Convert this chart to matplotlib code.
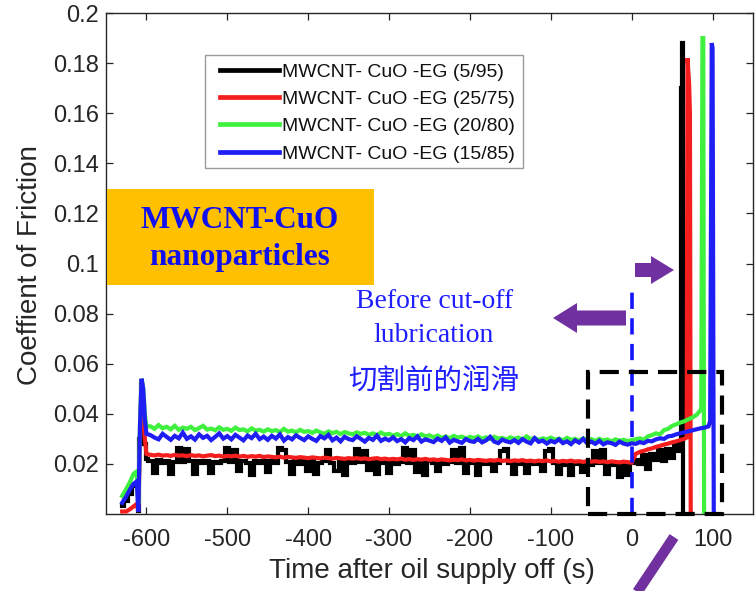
import numpy as np
import matplotlib
matplotlib.use("Agg")
import matplotlib.pyplot as plt
from matplotlib.patches import Rectangle, Polygon
from matplotlib.lines import Line2D

# ---------------- data ----------------
LABELS = ["MWCNT- CuO -EG (5/95)", "MWCNT- CuO -EG (25/75)",
          "MWCNT- CuO -EG (20/80)", "MWCNT- CuO -EG (15/85)"]
COLORS = ["#000000", "#f51e1e", "#3ff03f", "#1e1ef5"]

# start-up transient (s)
START_T = [-630, -625, -620, -616, -612, -610, -608, -606, -604, -602, -600]
BLACK_START = [0.003, 0.005, 0.008, 0.011, 0.012, 0.001, 0.030, 0.052, 0.045, 0.028, 0.022]
RED_START = [0.001, 0.001, 0.002, 0.003, 0.004, 0.001, 0.030, 0.052, 0.045, 0.030, 0.024]
GREEN_START = [0.0072, 0.010, 0.013, 0.016, 0.017, 0.004, 0.035, 0.054, 0.050, 0.040, 0.035]
BLUE_START = [0.0045, 0.007, 0.010, 0.012, 0.013, 0.001, 0.035, 0.054, 0.050, 0.038, 0.032]

# lubricated running, sampled every 5 s from -595 s to 0 s
STEADY_T = np.arange(-595, 1, 5)
BLACK_STEADY = [
    0.0212, 0.0165, 0.0215, 0.0205, 0.0212, 0.0160, 0.0208, 0.0262, 0.0208, 0.0258,
    0.0210, 0.0158, 0.0210, 0.0202, 0.0212, 0.0165, 0.0208, 0.0205, 0.0212, 0.0265,
    0.0208, 0.0255, 0.0170, 0.0210, 0.0202, 0.0155, 0.0212, 0.0205, 0.0210, 0.0168,
    0.0210, 0.0202, 0.0262, 0.0255, 0.0208, 0.0160, 0.0210, 0.0200, 0.0212, 0.0172,
    0.0210, 0.0160, 0.0202, 0.0212, 0.0255, 0.0202, 0.0170, 0.0210, 0.0155, 0.0210,
    0.0202, 0.0260, 0.0208, 0.0252, 0.0175, 0.0210, 0.0160, 0.0210, 0.0202, 0.0165,
    0.0210, 0.0200, 0.0208, 0.0262, 0.0202, 0.0255, 0.0168, 0.0208, 0.0155, 0.0210,
    0.0202, 0.0170, 0.0208, 0.0198, 0.0208, 0.0255, 0.0202, 0.0265, 0.0162, 0.0208,
    0.0202, 0.0155, 0.0208, 0.0198, 0.0206, 0.0170, 0.0205, 0.0252, 0.0258, 0.0202,
    0.0160, 0.0206, 0.0198, 0.0165, 0.0206, 0.0200, 0.0208, 0.0172, 0.0250, 0.0260,
    0.0202, 0.0158, 0.0205, 0.0196, 0.0155, 0.0206, 0.0200, 0.0168, 0.0205, 0.0196,
    0.0252, 0.0202, 0.0255, 0.0160, 0.0202, 0.0196, 0.0148, 0.0202, 0.0155, 0.0202]
RED_STEADY = [
    0.0236, 0.0234, 0.0237, 0.0233, 0.0235, 0.0232, 0.0236, 0.0233, 0.0234, 0.0231,
    0.0235, 0.0232, 0.0234, 0.0230, 0.0233, 0.0235, 0.0231, 0.0233, 0.0229, 0.0232,
    0.0230, 0.0233, 0.0229, 0.0232, 0.0228, 0.0231, 0.0229, 0.0232, 0.0227, 0.0230,
    0.0228, 0.0226, 0.0229, 0.0225, 0.0228, 0.0226, 0.0224, 0.0227, 0.0225, 0.0223,
    0.0226, 0.0224, 0.0222, 0.0225, 0.0223, 0.0221, 0.0224, 0.0222, 0.0220, 0.0223,
    0.0221, 0.0223, 0.0220, 0.0222, 0.0219, 0.0221, 0.0223, 0.0219, 0.0221, 0.0218,
    0.0220, 0.0218, 0.0221, 0.0217, 0.0219, 0.0216, 0.0219, 0.0217, 0.0220, 0.0216,
    0.0218, 0.0215, 0.0218, 0.0216, 0.0214, 0.0217, 0.0215, 0.0218, 0.0214, 0.0216,
    0.0213, 0.0216, 0.0214, 0.0212, 0.0215, 0.0213, 0.0216, 0.0212, 0.0214, 0.0211,
    0.0214, 0.0212, 0.0215, 0.0211, 0.0213, 0.0210, 0.0213, 0.0211, 0.0214, 0.0210,
    0.0212, 0.0209, 0.0212, 0.0210, 0.0213, 0.0209, 0.0211, 0.0208, 0.0211, 0.0209,
    0.0211, 0.0208, 0.0210, 0.0207, 0.0210, 0.0208, 0.0206, 0.0209, 0.0207, 0.0205]
GREEN_STEADY = [
    0.0350, 0.0340, 0.0355, 0.0342, 0.0348, 0.0338, 0.0352, 0.0336, 0.0345, 0.0340,
    0.0348, 0.0335, 0.0343, 0.0352, 0.0337, 0.0341, 0.0334, 0.0346, 0.0336, 0.0340,
    0.0332, 0.0345, 0.0335, 0.0338, 0.0330, 0.0342, 0.0333, 0.0336, 0.0329, 0.0338,
    0.0331, 0.0335, 0.0327, 0.0340, 0.0329, 0.0333, 0.0326, 0.0336, 0.0328, 0.0331,
    0.0324, 0.0333, 0.0326, 0.0320, 0.0330, 0.0323, 0.0328, 0.0319, 0.0327, 0.0322,
    0.0318, 0.0326, 0.0320, 0.0324, 0.0316, 0.0322, 0.0315, 0.0325, 0.0317, 0.0320,
    0.0313, 0.0319, 0.0311, 0.0322, 0.0312, 0.0316, 0.0309, 0.0318, 0.0310, 0.0314,
    0.0306, 0.0313, 0.0304, 0.0310, 0.0302, 0.0312, 0.0305, 0.0309, 0.0301, 0.0308,
    0.0303, 0.0310, 0.0300, 0.0306, 0.0299, 0.0308, 0.0301, 0.0304, 0.0297, 0.0306,
    0.0300, 0.0305, 0.0297, 0.0310, 0.0299, 0.0303, 0.0296, 0.0302, 0.0298, 0.0305,
    0.0297, 0.0301, 0.0294, 0.0304, 0.0296, 0.0300, 0.0293, 0.0302, 0.0295, 0.0299,
    0.0292, 0.0300, 0.0294, 0.0297, 0.0290, 0.0298, 0.0293, 0.0296, 0.0291, 0.0295]
BLUE_STEADY = [
    0.0315, 0.0305, 0.0298, 0.0320, 0.0308, 0.0296, 0.0312, 0.0302, 0.0325, 0.0300,
    0.0310, 0.0297, 0.0318, 0.0304, 0.0312, 0.0295, 0.0308, 0.0322, 0.0301, 0.0311,
    0.0298, 0.0316, 0.0305, 0.0294, 0.0313, 0.0303, 0.0320, 0.0299, 0.0309, 0.0296,
    0.0312, 0.0301, 0.0318, 0.0293, 0.0307, 0.0298, 0.0314, 0.0304, 0.0295, 0.0310,
    0.0300, 0.0292, 0.0311, 0.0302, 0.0316, 0.0294, 0.0305, 0.0290, 0.0308, 0.0299,
    0.0295, 0.0310, 0.0300, 0.0289, 0.0304, 0.0296, 0.0313, 0.0292, 0.0301, 0.0294,
    0.0306, 0.0291, 0.0299, 0.0286, 0.0303, 0.0295, 0.0310, 0.0289, 0.0298, 0.0293,
    0.0287, 0.0301, 0.0292, 0.0306, 0.0285, 0.0296, 0.0290, 0.0284, 0.0299, 0.0291,
    0.0288, 0.0300, 0.0286, 0.0294, 0.0308, 0.0289, 0.0283, 0.0297, 0.0290, 0.0286,
    0.0295, 0.0284, 0.0299, 0.0289, 0.0282, 0.0303, 0.0288, 0.0293, 0.0281, 0.0292,
    0.0286, 0.0298, 0.0283, 0.0290, 0.0279, 0.0294, 0.0285, 0.0300, 0.0282, 0.0289,
    0.0280, 0.0292, 0.0278, 0.0286, 0.0283, 0.0276, 0.0289, 0.0281, 0.0277, 0.0282]

# after the oil supply is cut: rising friction, then seizure spike
BLACK_POST_T = [5, 10, 15, 20, 25, 30, 35, 40, 45, 50, 55, 58, 60, 61.5, 62.5, 63.5, 65]
BLACK_POST = [0.0215, 0.020, 0.0235, 0.018, 0.024, 0.0215, 0.0255, 0.021, 0.026,
              0.0225, 0.0275, 0.025, 0.028, 0.170, 0.188, 0.0, 0.0]
RED_POST_T = [5, 10, 15, 20, 25, 30, 35, 40, 45, 50, 55, 60, 65, 68, 69, 71, 72, 73, 75]
RED_POST = [0.0240, 0.0248, 0.0252, 0.0258, 0.0262, 0.0268, 0.0272, 0.0277, 0.0281,
            0.0286, 0.0290, 0.0295, 0.0300, 0.0305, 0.182, 0.172, 0.160, 0.0, 0.0]
GREEN_POST_T = [5, 10, 15, 20, 25, 30, 35, 40, 45, 50, 55, 60, 65, 70, 75, 80, 84,
                86, 87.5, 88.5, 89.5, 91]
GREEN_POST = [0.0298, 0.0302, 0.0296, 0.0310, 0.0315, 0.0322, 0.0318, 0.0335, 0.0340,
              0.0352, 0.0358, 0.0365, 0.0370, 0.0378, 0.0385, 0.0395, 0.0410,
              0.0420, 0.190, 0.190, 0.0, 0.0]
BLUE_POST_T = [5, 10, 15, 20, 25, 30, 35, 40, 45, 50, 55, 60, 65, 70, 75, 80, 85, 90,
               95, 97, 99, 100, 101.5, 103]
BLUE_POST = [0.0280, 0.0287, 0.0283, 0.0292, 0.0290, 0.0298, 0.0302, 0.0300, 0.0310,
             0.0312, 0.0318, 0.0322, 0.0326, 0.0330, 0.0334, 0.0338, 0.0342, 0.0345,
             0.0350, 0.0370, 0.188, 0.186, 0.0, 0.0]

X_TICKS = [-600, -500, -400, -300, -200, -100, 0, 100]
Y_TICKS = [0.02, 0.04, 0.06, 0.08, 0.1, 0.12, 0.14, 0.16, 0.18, 0.2]

# zoom window drawn around the cut-off region
BOX_T = (-54, 112)
BOX_MU = (0.0, 0.0565)
CUT_LINE_TOP = 0.0915

SERIES = [
    (BLACK_START, BLACK_STEADY, BLACK_POST_T, BLACK_POST),
    (RED_START, RED_STEADY, RED_POST_T, RED_POST),
    (GREEN_START, GREEN_STEADY, GREEN_POST_T, GREEN_POST),
    (BLUE_START, BLUE_STEADY, BLUE_POST_T, BLUE_POST),
]

# ---------------- figure ----------------
W, H = 755, 591
fig = plt.figure(figsize=(W / 100, H / 100), dpi=100)
ax = fig.add_axes([106 / W, 1 - 514 / H, 647 / W, 501 / H])

TXT = "#262626"
SANS = ["Liberation Sans", "DejaVu Sans"]


def fx(px):
    return px / W


def fy(py):
    return 1 - py / H


lines = []
for i, ((st, sd, pt, pv), lab, col) in enumerate(zip(SERIES, LABELS, COLORS)):
    t = np.concatenate([START_T, STEADY_T, pt])
    y = np.concatenate([st, sd, pv])
    # the noisy 5/95 trace is drawn as held samples so its dips read as bars
    ds = "steps-mid" if i == 0 else "default"
    ln, = ax.plot(t, y, color=col, lw=3.0, label=lab, drawstyle=ds,
                  solid_joinstyle="miter", zorder=3)
    lines.append(ln)

ax.set_xlim(-650, 150)
ax.set_ylim(0, 0.2)
ax.set_xticks(X_TICKS)
ax.set_xticklabels([f"{v:g}" for v in X_TICKS], family=SANS, fontsize=17, color=TXT)
ax.set_yticks(Y_TICKS)
ax.set_yticklabels([f"{v:g}" for v in Y_TICKS], family=SANS, fontsize=17, color=TXT)
ax.tick_params(axis="both", direction="in", top=True, right=True, length=5,
               width=0.9, colors=TXT, labelcolor=TXT)
ax.tick_params(axis="x", pad=10.5)
ax.tick_params(axis="y", pad=5)
for s in ax.spines.values():
    s.set_color(TXT)
    s.set_linewidth(1.0)

ax.set_xlabel("Time after oil supply off (s)", family=SANS, fontsize=20, color=TXT)
ax.set_ylabel("Coeffient of Friction", family=SANS, fontsize=20, color=TXT)
ax.xaxis.set_label_coords(0.504, -0.088)
ax.yaxis.set_label_coords(-0.098, 0.497)

# cut-off marker and zoom window
ax.plot([0, 0], [0, CUT_LINE_TOP], color="#1414ff", lw=2.6,
        linestyle=(0, (4.5, 2.6)), zorder=5)
ax.add_patch(Rectangle((BOX_T[0], BOX_MU[0]), BOX_T[1] - BOX_T[0], BOX_MU[1] - BOX_MU[0],
                       fill=False, edgecolor="black", lw=3.0,
                       linestyle=(0, (4.6, 2.4)), zorder=6, clip_on=False))

# legend with a hand-placed frame
frame = Rectangle((fx(205), fy(168)), (523 - 205) / W, (168 - 55) / H,
                  transform=fig.transFigure, facecolor="white",
                  edgecolor="#9a9a9a", lw=1.0, zorder=4)
ax.add_patch(frame)
leg = ax.legend(handles=lines, loc="upper left",
                bbox_to_anchor=(fx(220), fy(63)), bbox_transform=fig.transFigure,
                prop={"family": SANS, "size": 14}, frameon=False,
                handlelength=3.05, handletextpad=0.13, labelspacing=0.5,
                borderpad=0.0, borderaxespad=0)
leg.set_zorder(5)
for h in leg.legend_handles:
    h.set_linewidth(3.4)
    h.set_drawstyle("default")
for tx in leg.get_texts():
    tx.set_color("#111111")

PURPLE = "#7030a0"


def h_arrow(x_tail, x_tip, yc, body, head, head_len):
    d = 1 if x_tip > x_tail else -1
    xb = x_tip - d * head_len
    pts = [(x_tail, yc - body), (xb, yc - body), (xb, yc - head), (x_tip, yc),
           (xb, yc + head), (xb, yc + body), (x_tail, yc + body)]
    fig.patches.append(Polygon([(fx(a), fy(b)) for a, b in pts], closed=True,
                               transform=fig.transFigure, facecolor=PURPLE,
                               edgecolor="none", zorder=7))


h_arrow(635, 674, 270, 7, 14, 23)
h_arrow(626, 553, 318, 7.5, 15, 24)
fig.add_artist(Line2D([fx(674), fx(634)], [fy(537), fy(597)], color=PURPLE, lw=7.5,
                      solid_capstyle="butt", transform=fig.transFigure, zorder=7))

# label box for the additive
fig.patches.append(Rectangle((fx(107), fy(285)), (374 - 107) / W, (285 - 189) / H,
                             transform=fig.transFigure, facecolor="#ffc000",
                             edgecolor="none", zorder=6))
SERIF = ["Liberation Serif", "DejaVu Serif"]
fig.text(fx(240), fy(220), "MWCNT-CuO", family=SERIF, weight="bold", fontsize=22.5,
         color="#1010ee", ha="center", va="center", zorder=8)
fig.text(fx(240), fy(257), "nanoparticles", family=SERIF, weight="bold", fontsize=22.5,
         color="#1010ee", ha="center", va="center", zorder=8)

fig.text(fx(435), fy(302), "Before cut-off", family=SERIF, fontsize=20,
         color="#1e1eff", ha="center", va="center")
fig.text(fx(434), fy(336), "lubrication", family=SERIF, fontsize=20,
         color="#1e1eff", ha="center", va="center")
fig.text(fx(434), fy(381), "切割前的润滑", family=["Noto Sans CJK SC", "DejaVu Sans"],
         fontsize=20.5, color="#1e1eff", ha="center", va="center")

fig.savefig("out.png", dpi=100)
